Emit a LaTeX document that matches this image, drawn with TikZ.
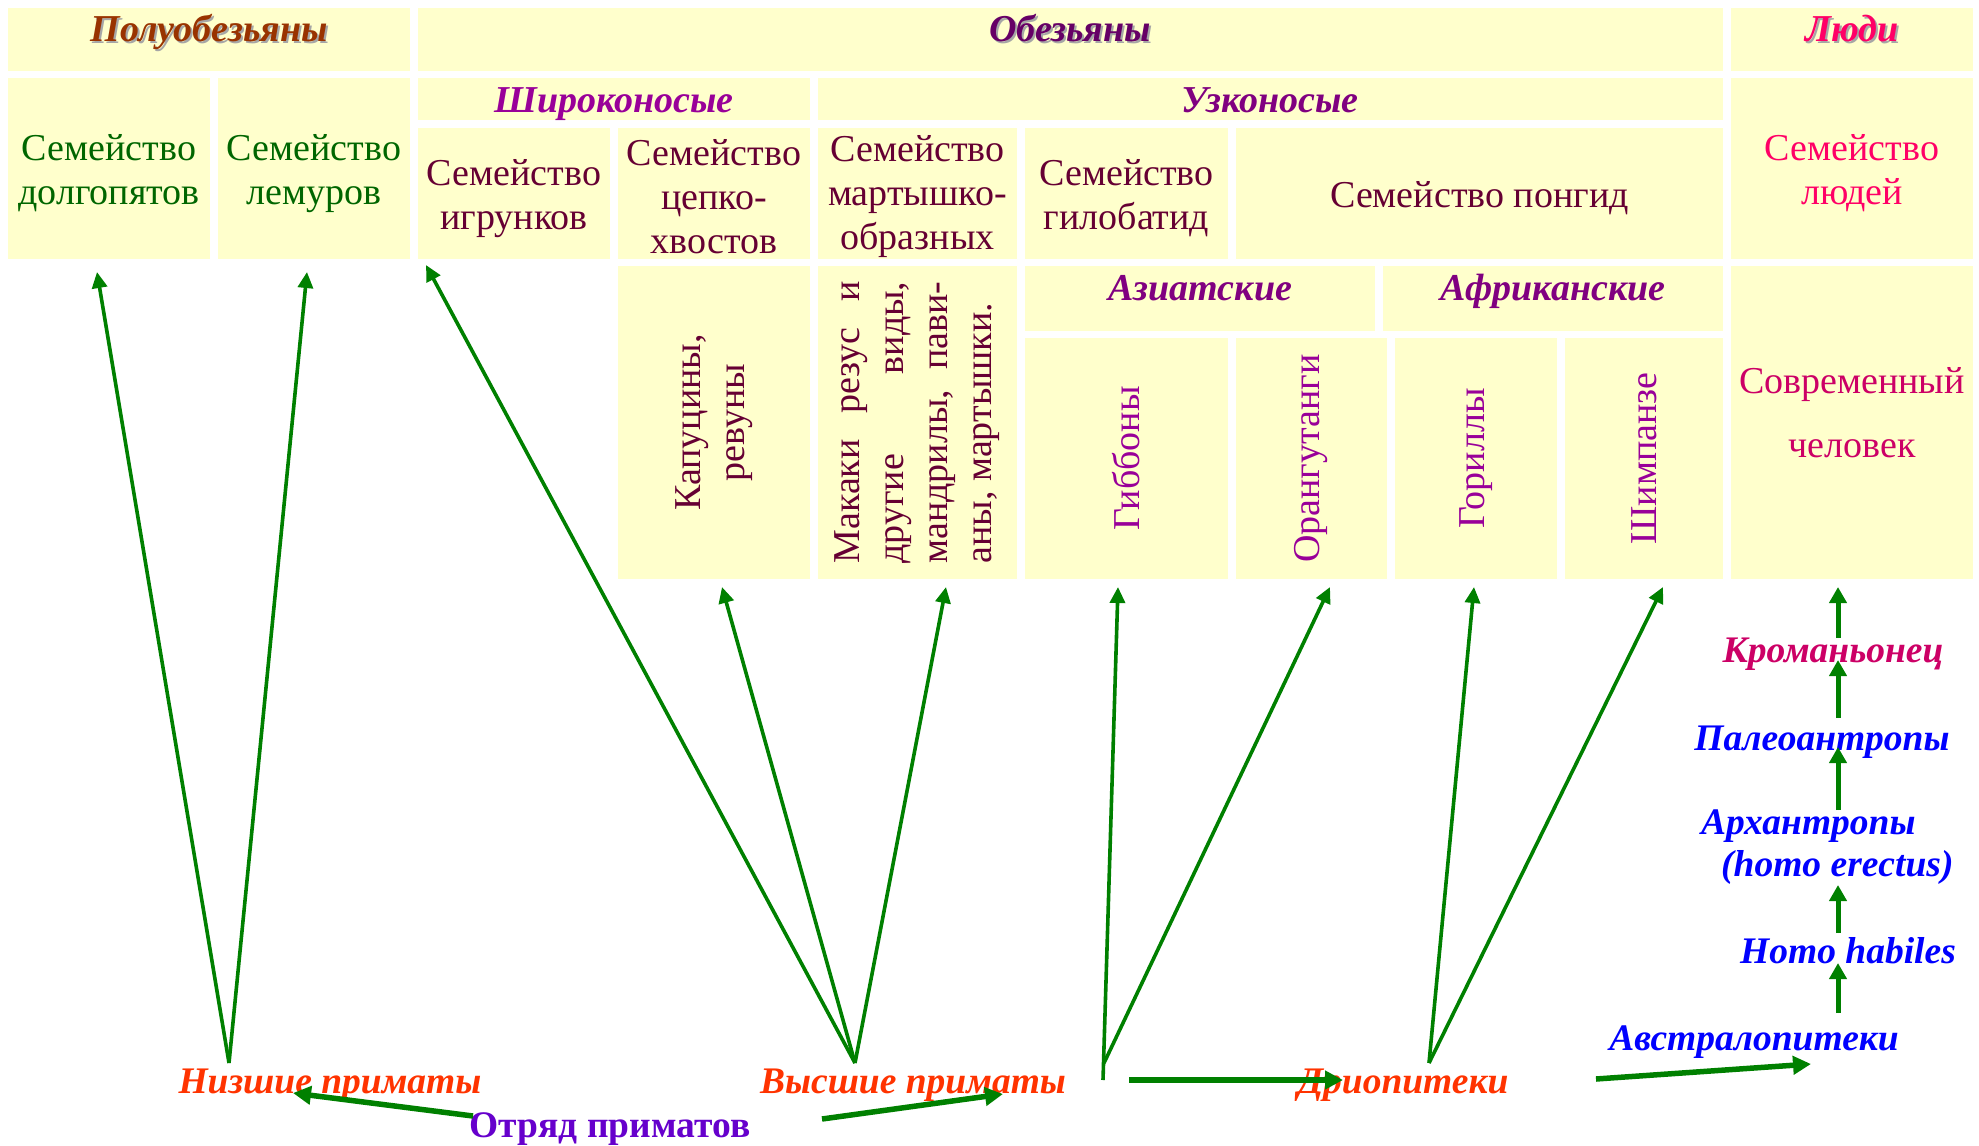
\documentclass[tikz,border=0pt]{standalone}
\usepackage{fontspec}
\setmainfont{Liberation Serif}
\usetikzlibrary{arrows.meta,calc}
\definecolor{boxfill}{HTML}{FFFFCC}
\definecolor{cbrown}{HTML}{993300}
\definecolor{cobez}{HTML}{660066}
\definecolor{cludi}{HTML}{FF0066}
\definecolor{cgreen}{HTML}{006600}
\definecolor{cshiro}{HTML}{990099}
\definecolor{cuzko}{HTML}{800080}
\definecolor{cmaroon}{HTML}{660033}
\definecolor{cspec}{HTML}{990099}
\definecolor{csovr}{HTML}{CC0066}
\definecolor{cblue}{HTML}{0000FF}
\definecolor{cred}{HTML}{FF3300}
\definecolor{cotr}{HTML}{6600CC}
\definecolor{carrow}{HTML}{008000}
\begin{document}
\begin{tikzpicture}[x=1pt,y=-1pt,
  box/.style={fill=boxfill, inner sep=0pt, outer sep=0pt, anchor=north west},
  famtxt/.style={inner sep=0pt, align=center, font=\fontsize{38}{44}\selectfont},
  hdr/.style={anchor=base, inner sep=0pt, font=\fontsize{38}{42}\selectfont\bfseries\itshape},
  shadowtxt/.style={hdr, text=black!35},
  lbl/.style={anchor=base, inner sep=0pt, font=\fontsize{37.5}{43}\selectfont\bfseries\itshape},
  rot/.style={rotate=90, inner sep=0pt, align=center, font=\fontsize{38}{44}\selectfont},
  arr/.style={draw=carrow, line width=3.6pt, -{Triangle[length=16pt,width=15pt]}, fill=carrow},
  arrV/.style={draw=carrow, line width=5pt, -{Triangle[length=16pt,width=17pt]}, fill=carrow},
  arrT/.style={draw=carrow, line width=5.5pt, -{Triangle[length=18pt,width=18pt]}, fill=carrow}
]
\useasboundingbox (0,0) rectangle (1979,1146);

% ---------- boxes ----------
\node[box, minimum width=402pt, minimum height=63pt] (polu) at (8,8) {};
\node[box, minimum width=1305pt, minimum height=63pt] (obez) at (418,8) {};
\node[box, minimum width=242pt, minimum height=63pt] (ludi) at (1731,8) {};

\node[box, minimum width=202pt, minimum height=181pt] (dolg) at (8,78) {};
\node[box, minimum width=192pt, minimum height=181pt] (lem) at (218,78) {};
\node[box, minimum width=392pt, minimum height=42pt] (shiro) at (418,78) {};
\node[box, minimum width=905pt, minimum height=42pt] (uzko) at (818,78) {};
\node[box, minimum width=242pt, minimum height=181pt] (lfam) at (1731,78) {};

\node[box, minimum width=192pt, minimum height=131pt] (igr) at (418,128) {};
\node[box, minimum width=192pt, minimum height=131pt] (cepk) at (618,128) {};
\node[box, minimum width=199pt, minimum height=131pt] (mart) at (818,128) {};
\node[box, minimum width=203pt, minimum height=131pt] (gilo) at (1025,128) {};
\node[box, minimum width=487pt, minimum height=131pt] (pong) at (1236,128) {};

\node[box, minimum width=192pt, minimum height=313pt] (kap) at (618,266) {};
\node[box, minimum width=199pt, minimum height=313pt] (mak) at (818,266) {};
\node[box, minimum width=350pt, minimum height=65pt] (azia) at (1025,266) {};
\node[box, minimum width=340pt, minimum height=65pt] (afr) at (1383,266) {};
\node[box, minimum width=242pt, minimum height=313pt] (sovr) at (1731,266) {};

\node[box, minimum width=203pt, minimum height=241pt] (gib) at (1025,338) {};
\node[box, minimum width=151pt, minimum height=241pt] (oran) at (1236,338) {};
\node[box, minimum width=162pt, minimum height=241pt] (gor) at (1395,338) {};
\node[box, minimum width=158pt, minimum height=241pt] (shim) at (1565,338) {};

% ---------- family texts ----------
\node[famtxt, text=cgreen] (dolgtxt) at ($(dolg.center)+(0,5)$) {Семейство\\долгопятов};
\node[famtxt, text=cgreen] (lemtxt) at ($(lem.center)+(0,5)$) {Семейство\\лемуров};
\node[famtxt, text=cludi] (lfamtxt) at ($(lfam.center)+(0,5)$) {Семейство\\людей};
\node[famtxt, text=cmaroon] (igrtxt) at ($(igr.center)+(0,5)$) {Семейство\\игрунков};
\node[famtxt, text=cmaroon] (cepktxt) at ($(cepk.center)+(0,3)$) {Семейство\\цепко-\\хвостов};
\node[famtxt, text=cmaroon] (marttxt) at ($(mart.center)+(0,3)$) {Семейство\\мартышко-\\образных};
\node[famtxt, text=cmaroon] (gilotxt) at ($(gilo.center)+(0,5)$) {Семейство\\гилобатид};
\node[famtxt, text=cmaroon] (pongtxt) at ($(pong.center)+(0,5)$) {Семейство понгид};

% ---------- headers ----------
\node[shadowtxt] (polush) at (211,43) {Полуобезьяны};
\node[hdr, text=cbrown] (polutxt) at (209,41) {Полуобезьяны};
\node[shadowtxt] (obezsh) at (1072,43) {Обезьяны};
\node[hdr, text=cobez] (obeztxt) at (1070,41) {Обезьяны};
\node[shadowtxt] (ludish) at (1854,43) {Люди};
\node[hdr, text=cludi] (luditxt) at (1852,41) {Люди};

\node[hdr, text=cshiro] (shirotxt) at (614,112) {Широконосые};
\node[hdr, text=cuzko] (uzkotxt) at (1270,112) {Узконосые};
\node[hdr, text=cuzko] (aziatxt) at (1200,300) {Азиатские};
\node[hdr, text=cuzko] (afrtxt) at (1553,300) {Африканские};

% ---------- rotated texts ----------
\node[rot, text=cmaroon] (kaptxt) at (kap.center) {Капуцины,\\ревуны};
\node[rot, text=cmaroon, align=left] (maktxt) at (mak.center) {%
  \hbox to 282pt{Макаки\hfill резус\hfill и}\\
  \hbox to 282pt{другие\hfill виды,}\\
  \hbox to 282pt{мандрилы,\hfill пави-}\\
  \hbox to 282pt{аны, мартышки.\hfill}};
\node[rot, text=cspec] (gibtxt) at (gib.center) {Гиббоны};
\node[rot, text=cspec] (orantxt) at (oran.center) {Орангутанги};
\node[rot, text=cspec] (gortxt) at (gor.center) {Гориллы};
\node[rot, text=cspec] (shimtxt) at (shim.center) {Шимпанзе};
\node[inner sep=0pt, align=center, text=csovr, font=\fontsize{38}{64}\selectfont] (sovrtxt) at (1852,413) {Современный\\человек};

% ---------- lower labels ----------
\node[lbl, text=cred] (nizsh) at (330,1093) {Низшие приматы};
\node[lbl, text=cred] (vyssh) at (913,1093) {Высшие приматы};
\node[lbl, text=cred] (drio) at (1403,1093) {Дриопитеки};
\node[anchor=base, inner sep=0pt, font=\fontsize{37.5}{43}\selectfont\bfseries, text=cotr] (otryad) at (610,1137) {Отряд приматов};

\node[lbl, text=csovr] (krom) at (1833,662) {Кроманьонец};
\node[lbl, text=cblue] (paleo) at (1822,750) {Палеоантропы};
\node[inner sep=0pt, anchor=north west, align=left, font=\fontsize{37.5}{42}\selectfont\bfseries\itshape, text=cblue] (arhan) at (1701,810) {Архантропы\\\hspace*{20pt}(homo erectus)};
\node[lbl, text=cblue] (hab) at (1848,963) {Homo habiles};
\node[lbl, text=cblue] (austr) at (1754,1050) {Австралопитеки};

% ---------- connector end points ----------
\coordinate (pNiz) at (229,1063);
\coordinate (pVys) at (855,1063);
\coordinate (pUzA) at (1103,1080);
\coordinate (pUzB) at (1104,1063);
\coordinate (pDri) at (1429,1063);
\coordinate (tDolg) at (97,272);
\coordinate (tLem) at (307,272);
\coordinate (tIgr) at (426,265);
\coordinate (tKap) at (722,587);
\coordinate (tMak) at (946,587);
\coordinate (tGib) at (1118,587);
\coordinate (tOran) at (1330,587);
\coordinate (tGor) at (1474,587);
\coordinate (tShim) at (1663,587);
\coordinate (hDs) at (1129,1080);
\coordinate (hDe) at (1343,1080);
\coordinate (hAs) at (1596,1079);
\coordinate (hAe) at (1811,1064);
\coordinate (oLs) at (473,1116);
\coordinate (oLe) at (293,1093);
\coordinate (oRs) at (822,1119);
\coordinate (oRe) at (1003,1094);
\coordinate (v1s) at (1838,1013); \coordinate (v1e) at (1838,963);
\coordinate (v2s) at (1838,933);  \coordinate (v2e) at (1838,885);
\coordinate (v3s) at (1838,810);  \coordinate (v3e) at (1838,747);
\coordinate (v4s) at (1838,718);  \coordinate (v4e) at (1838,660);
\coordinate (v5s) at (1838,638);  \coordinate (v5e) at (1838,587);

% ---------- connectors ----------
\draw[arr] (pNiz) -- (tDolg);
\draw[arr] (pNiz) -- (tLem);
\draw[arr] (pVys) -- (tIgr);
\draw[arr] (pVys) -- (tKap);
\draw[arr] (pVys) -- (tMak);
\draw[arr] (pUzA) -- (tGib);
\draw[arr] (pUzB) -- (tOran);
\draw[arr] (pDri) -- (tGor);
\draw[arr] (pDri) -- (tShim);
\draw[arrT] (hDs) -- (hDe);
\draw[arrT] (hAs) -- (hAe);
\draw[arrT] (oLs) -- (oLe);
\draw[arrT] (oRs) -- (oRe);
\draw[arrV] (v1s) -- (v1e);
\draw[arrV] (v2s) -- (v2e);
\draw[arrV] (v3s) -- (v3e);
\draw[arrV] (v4s) -- (v4e);
\draw[arrV] (v5s) -- (v5e);
\end{tikzpicture}
\end{document}
